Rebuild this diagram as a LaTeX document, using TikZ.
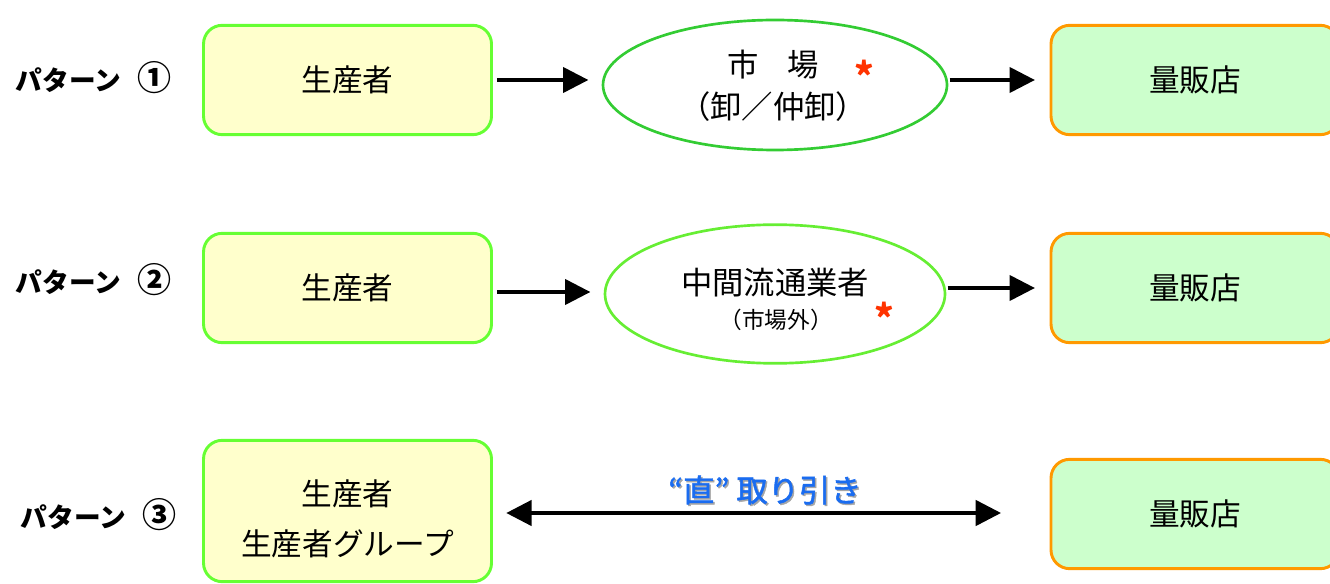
\documentclass[tikz,border=0pt]{standalone}
\usepackage{fontspec}
\setmainfont{Noto Sans CJK JP}
\usetikzlibrary{shapes.geometric,arrows.meta}
\definecolor{prodfill}{HTML}{FFFFCC}
\definecolor{prodline}{HTML}{66FF33}
\definecolor{retfill}{HTML}{CCFFCC}
\definecolor{retline}{HTML}{FF9900}
\definecolor{ell1}{HTML}{33CC33}
\definecolor{ell2}{HTML}{66EE33}
\definecolor{astred}{HTML}{FF3300}
\definecolor{direct}{HTML}{1A6CF0}
\newcommand{\cnum}[1]{{\fontsize{25.5}{25}\selectfont #1}}
\tikzset{
  prod/.style={draw=prodline, fill=prodfill, line width=2.2pt, rounded corners=14pt,
    minimum width=216pt, minimum height=82pt, align=center, font=\fontsize{23}{37}\selectfont},
  ret/.style={draw=retline, fill=retfill, line width=2.2pt, rounded corners=14pt,
    minimum width=216pt, minimum height=82pt, font=\fontsize{23}{28}\selectfont},
  mkt/.style={draw, ellipse, fill=white, line width=2pt, inner sep=0pt},
  pat/.style={font=\bfseries\fontsize{20}{22}\selectfont, anchor=west},
  big/.style={font=\fontsize{23.5}{28}\selectfont},
  small/.style={font=\fontsize{17}{20}\selectfont},
  ast/.style={text=astred, font=\bfseries\fontsize{28}{28}\selectfont},
  arr/.style={line width=2.4pt, -{Triangle[length=19pt,width=19pt]}},
  darr/.style={line width=2.6pt, {Triangle[length=19pt,width=19pt]}-{Triangle[length=19pt,width=19pt]}}
}
\begin{document}
\begin{tikzpicture}[x=0.75pt,y=-0.75pt]
\useasboundingbox (0,0) rectangle (1330,584);
% pattern labels
\node[pat] (l1) at (11,78) {パターン\hspace{0.6em}\cnum{①}};
\node[pat] (l2) at (11,280) {パターン\hspace{0.6em}\cnum{②}};
\node[pat] (l3) at (16,515) {パターン\hspace{0.6em}\cnum{③}};
% row 1
\node[prod] (p1) at (347.5,80) {\raisebox{-2pt}{生産者}};
\node[mkt, draw=ell1, minimum width=258pt, minimum height=97.5pt] (m1) at (775,85) {};
\node[big] (m1a) at (773,65) {市\hspace{0.9em}場};
\node[big] (m1b) at (773,107) {（卸／仲卸）};
\node[ast] (a1) at (864,75) {*};
\node[ret] (r1) at (1195,80) {\raisebox{-2pt}{量販店}};
\draw[arr, shorten <=3pt, shorten >=10pt] (p1.east) -- (p1.east -| m1.west);
\draw[arr, shorten <=1pt, shorten >=11pt] (m1.east |- r1.west) -- (r1.west);
% row 2
\node[prod] (p2) at (347.5,288) {\raisebox{-2pt}{生産者}};
\node[mkt, draw=ell2, minimum width=255pt, minimum height=104pt] (m2) at (775,294) {};
\node[big] (m2a) at (775,283) {中間流通業者};
\node[small] (m2b) at (776,320) {（市場外）};
\node[ast] (a2) at (884,317) {*};
\node[ret] (r2) at (1195,288) {\raisebox{-2pt}{量販店}};
\draw[arr, shorten <=3pt, shorten >=10pt] ([yshift=-3pt]p2.east) -- ([yshift=-3pt]p2.east -| m2.west);
\draw[arr, shorten <=1pt, shorten >=11pt] (m2.east |- r2.west) -- (r2.west);
% row 3
\node[prod, minimum height=106pt] (p3) at (347.5,511) {\rule{0pt}{31pt}生産者\\[1pt]生産者グループ};
\node[ret] (r3) at (1195,514) {\raisebox{-2pt}{量販店}};
\coordinate (d3) at (1001,513);
\draw[darr, shorten <=10pt] (p3.east |- d3) -- (d3);
\node[text=black!35, font=\fontsize{23.5}{28}\selectfont\addfontfeature{FakeBold=1.5}] (t3s) at (766.5,491.5) {“直” 取り引き};
\node[text=direct, font=\fontsize{23.5}{28}\selectfont\addfontfeature{FakeBold=1.5}] (t3) at (765,490) {“直” 取り引き};
\end{tikzpicture}
\end{document}
